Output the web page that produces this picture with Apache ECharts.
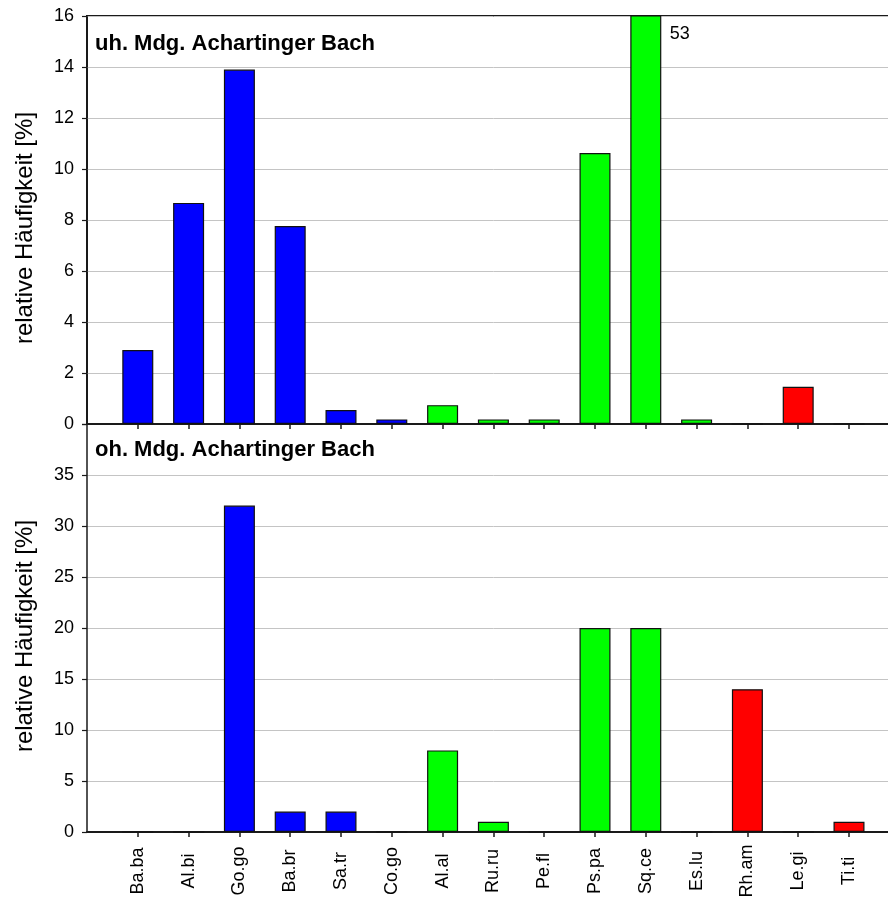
<!DOCTYPE html>
<html>
<head>
<meta charset="utf-8">
<script src="https://cdn.jsdelivr.net/npm/echarts@6/dist/echarts.min.js"></script>
<style>
  html, body { margin: 0; padding: 0; background: #fff; overflow: hidden; }
  #chart { width: 900px; height: 901px; }
</style>
</head>
<body>
<div id="chart"></div>
<script>
// Species codes along the x axis
const categories = ['Ba.ba', 'Al.bi', 'Go.go', 'Ba.br', 'Sa.tr', 'Co.go', 'Al.al', 'Ru.ru',
  'Pe.fl', 'Ps.pa', 'Sq.ce', 'Es.lu', 'Rh.am', 'Le.gi', 'Ti.ti'];
// Colour group for each species (b = blue, g = green, r = red)
const groups = ['b', 'b', 'b', 'b', 'b', 'b', 'g', 'g', 'g', 'g', 'g', 'g', 'r', 'r', 'r'];
// Relative frequency [%] below the Achartinger Bach mouth
const valuesUh = [2.9, 8.67, 13.9, 7.76, 0.55, 0.18, 0.74, 0.18, 0.18, 10.63, 53, 0.18, 0, 1.46, 0];
// Relative frequency [%] above the Achartinger Bach mouth
const valuesOh = [0, 0, 32, 2, 2, 0, 8, 1, 0, 20, 20, 0, 14, 0, 1];
// Panel titles
const titleUh = 'uh. Mdg. Achartinger Bach';
const titleOh = 'oh. Mdg. Achartinger Bach';
const yName = 'relative Häufigkeit [%]';
// Y axis ranges
const yUh = { min: 0, max: 16, interval: 2 };
const yOh = { min: 0, max: 40, interval: 5 };

const groupColor = { b: '#0000ff', g: '#00ff00', r: '#ff0000' };
const FONT = '"Liberation Sans", Arial, sans-serif';

// One empty slot on each side of the species so the first species sits one step from the axis
const paddedCats = [''].concat(categories, ['']);
function barData(values) {
  return [null].concat(values.map((v, i) => ({
    value: v,
    itemStyle: { color: groupColor[groups[i]] }
  })), [null]);
}

const chart = echarts.init(document.getElementById('chart'), null, { renderer: 'canvas' });

const gridLeft = 87;
const bandStep = 50.8;
const gridWidth = bandStep * 16;

function xAxis(gridIndex, showLabels) {
  return {
    type: 'category',
    gridIndex: gridIndex,
    data: paddedCats,
    boundaryGap: false,
    axisLine: { show: true, onZero: false, lineStyle: { color: '#1a1a1a', width: 2 } },
    axisTick: {
      show: true, length: 5, inside: false,
      interval: (i) => i > 0 && i < paddedCats.length - 1,
      lineStyle: { color: '#1a1a1a', width: 1.5 }
    },
    axisLabel: {
      show: showLabels, rotate: 90, interval: 0, margin: 39, align: 'center',
      fontFamily: FONT, fontSize: 18, color: '#000'
    },
    splitLine: { show: false }
  };
}

function yAxis(gridIndex, range, hideMax) {
  return {
    type: 'value',
    gridIndex: gridIndex,
    min: range.min, max: range.max, interval: range.interval,
    name: yName,
    nameLocation: 'middle',
    nameGap: 50,
    nameRotate: 90,
    nameTextStyle: { fontFamily: FONT, fontSize: 24, color: '#000', padding: [0, 0, 0, -16] },
    axisLine: { show: true, lineStyle: { color: '#1a1a1a', width: 1.5 } },
    axisTick: { show: true, length: 5, lineStyle: { color: '#1a1a1a', width: 1.2 } },
    axisLabel: {
      fontFamily: FONT, fontSize: 18, color: '#000', margin: 13,
      formatter: (v) => (hideMax && v === range.max) ? '' : String(v)
    },
    splitLine: { show: true, lineStyle: { color: '#c4c4c4', width: 1 } }
  };
}

// Value labels for bars that run past the top of their panel: [x index, clipped y, real value]
const overflowUh = valuesUh
  .map((v, i) => (v > yUh.max ? [i + 1, yUh.max, v] : null))
  .filter(Boolean);

const option = {
  animation: false,
  backgroundColor: '#fff',
  title: [
    { text: titleUh, left: 95, top: 33, padding: 0,
      textStyle: { fontFamily: FONT, fontSize: 22, fontWeight: 'bold', color: '#000' } },
    { text: titleOh, left: 95, top: 439, padding: 0,
      textStyle: { fontFamily: FONT, fontSize: 22, fontWeight: 'bold', color: '#000' } }
  ],
  grid: [
    { left: gridLeft, width: gridWidth, top: 16, height: 408, show: true,
      borderColor: '#1a1a1a', borderWidth: 2, backgroundColor: 'transparent' },
    { left: gridLeft, width: gridWidth, top: 424, height: 408 }
  ],
  xAxis: [xAxis(0, false), xAxis(1, true)],
  yAxis: [yAxis(0, yUh, false), yAxis(1, yOh, true)],
  series: [
    {
      type: 'bar', xAxisIndex: 0, yAxisIndex: 0,
      data: barData(valuesUh), barWidth: 31, clip: true,
      itemStyle: { borderColor: '#111', borderWidth: 1.2 }
    },
    {
      type: 'bar', xAxisIndex: 1, yAxisIndex: 1,
      data: barData(valuesOh), barWidth: 31, clip: true,
      itemStyle: { borderColor: '#111', borderWidth: 1.2 }
    },
    {
      type: 'custom', xAxisIndex: 0, yAxisIndex: 0, silent: true,
      data: overflowUh,
      renderItem: (params, api) => {
        const pt = api.coord([api.value(0), api.value(1)]);
        return {
          type: 'text',
          x: pt[0] + 24, y: pt[1] + 18,
          style: {
            text: String(api.value(2)), fill: '#000',
            font: '18px "Liberation Sans", Arial, sans-serif',
            verticalAlign: 'middle', align: 'left'
          }
        };
      }
    }
  ]
};

chart.setOption(option);
</script>
</body>
</html>
